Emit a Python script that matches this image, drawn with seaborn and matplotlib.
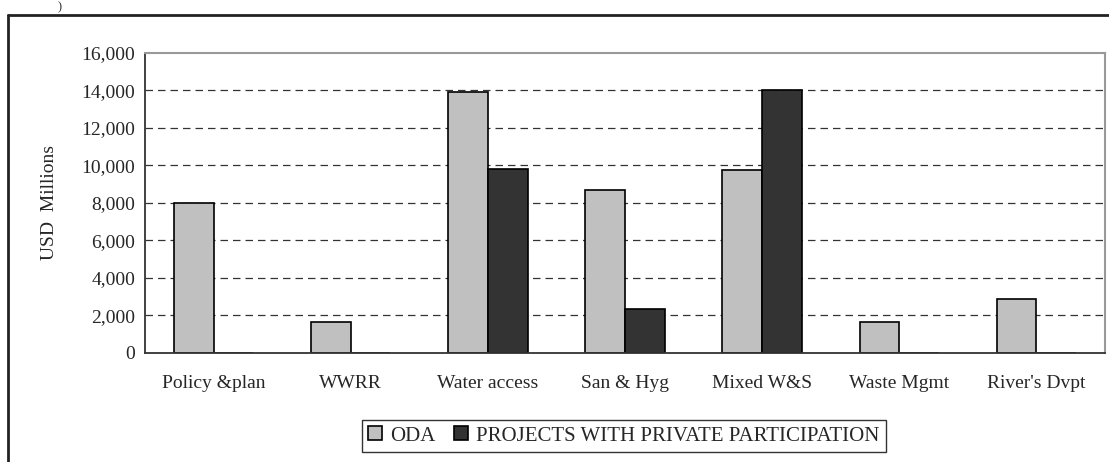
import pandas as pd
import matplotlib.pyplot as plt
import seaborn as sns
from matplotlib.lines import Line2D
from matplotlib.ticker import FuncFormatter, FixedLocator

# Chart data (USD millions)
categories = ["Policy &plan", "WWRR", "Water access", "San & Hyg",
              "Mixed W&S", "Waste Mgmt", "River's Dvpt"]
oda = [8000, 1650, 13900, 8700, 9750, 1650, 2850]
private = [0, 0, 9800, 2350, 14000, 0, 0]
series_names = ["ODA", "PROJECTS WITH PRIVATE PARTICIPATION"]
y_ticks = [0, 2000, 4000, 6000, 8000, 10000, 12000, 14000, 16000]

df = pd.DataFrame({
    "category": categories * 2,
    "value": oda + private,
    "series": [series_names[0]] * len(categories) + [series_names[1]] * len(categories),
})

sns.set_style("white")
plt.rcParams['font.family'] = ['Liberation Serif', 'DejaVu Serif']

fig = plt.figure(figsize=(11.09, 4.62), dpi=100)
ax = fig.add_axes([0.1307, 0.2366, 0.8657, 0.6493])

sns.barplot(
    data=df, x="category", y="value", hue="series",
    palette=["#C0C0C0", "#333333"], width=0.58, gap=0,
    edgecolor="black", linewidth=1.2, saturation=1, ax=ax,
)

ax.set_ylim(0, 16000)
ax.set_xlim(-0.5, len(categories) - 0.5)
ax.set_yticks(y_ticks)
ax.yaxis.set_major_formatter(FuncFormatter(lambda v, p: f"{int(v):,}"))
ax.tick_params(axis="y", length=5, width=1, direction="out", labelsize=14, pad=2, color="black")
ax.tick_params(axis="x", which="major", length=0, labelsize=14, pad=16)
ax.xaxis.set_minor_locator(FixedLocator([i - 0.5 for i in range(len(categories) + 1)]))
ax.tick_params(axis="x", which="minor", length=5, width=1, direction="out", color="black")

# dashed gridlines
for v in y_ticks[1:-1]:
    ax.axhline(v, color="#333333", linestyle=(0, (6, 4)), linewidth=0.9, zorder=0)

ax.set_xlabel("")
ax.set_ylabel("USD  Millions", fontsize=14, labelpad=17)

for side in ["left", "bottom"]:
    ax.spines[side].set_color("#333333")
    ax.spines[side].set_linewidth(1.3)
for side in ["top", "right"]:
    ax.spines[side].set_visible(True)
    ax.spines[side].set_color("#999999")
    ax.spines[side].set_linewidth(1.5)

leg = ax.legend(
    loc="center", bbox_to_anchor=(624 / 1109, 1 - 436 / 462),
    bbox_transform=fig.transFigure, ncol=2, frameon=True, fancybox=False,
    fontsize=15, handlelength=0.65, handleheight=0.65, handletextpad=0.4,
    columnspacing=0.9, borderpad=0.3, title=None,
)
leg.get_frame().set_edgecolor("black")
leg.get_frame().set_linewidth(1.0)

# outer chart frame (cut off at right and bottom in the source)
fig.add_artist(Line2D([8 / 1109, 8 / 1109], [0, 1 - 15 / 462], color="#222222", linewidth=2))
fig.add_artist(Line2D([8 / 1109, 1], [1 - 15 / 462, 1 - 15 / 462], color="#222222", linewidth=2))
# caption fragment at the top edge
fig.text(58 / 1109, 1 - 10 / 462, ")", fontsize=9, va="baseline", ha="left")

plt.savefig("out.png", dpi=100)
